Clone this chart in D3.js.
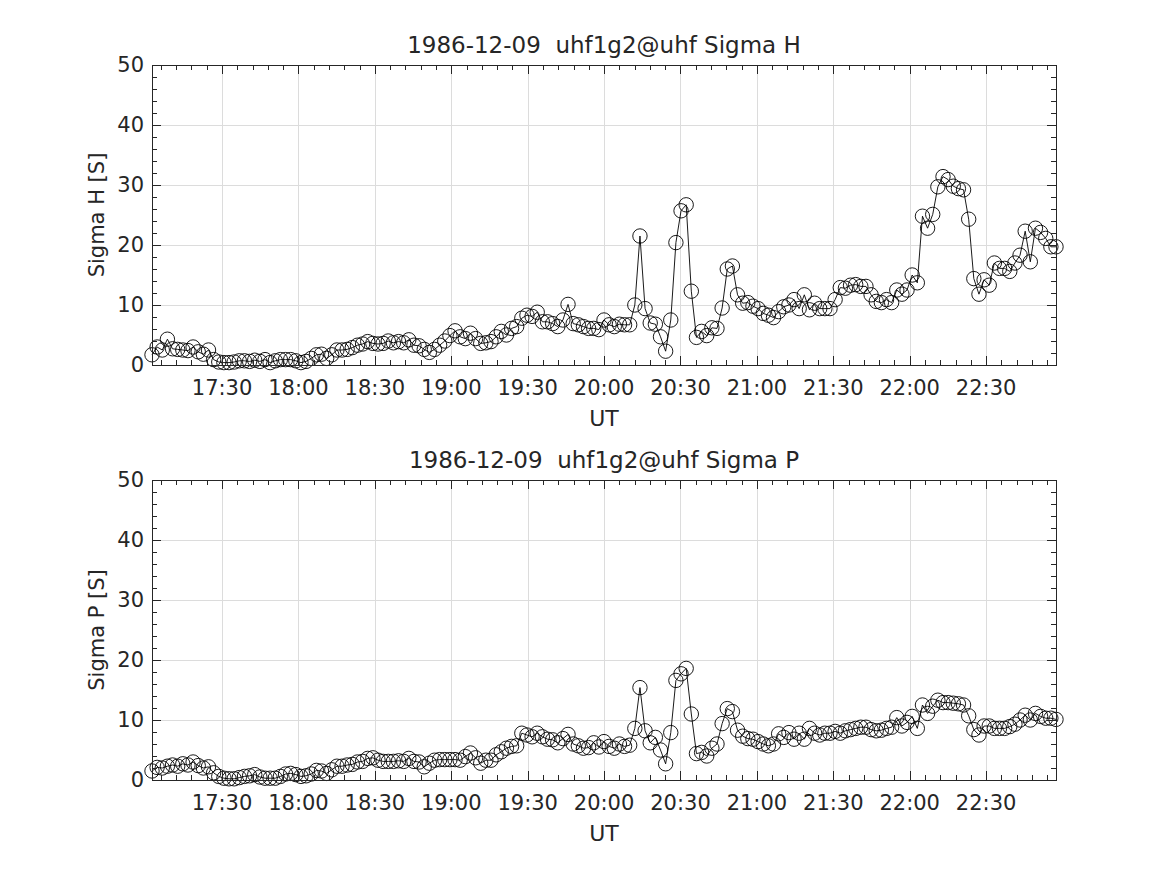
<!DOCTYPE html>
<html><head><meta charset="utf-8">
<script src="https://cdn.jsdelivr.net/npm/d3@7/dist/d3.min.js"></script>
<style>
body{margin:0;background:#fff}
text{font-family:"DejaVu Sans",sans-serif;fill:#262626;white-space:pre}
</style>
</head><body><svg id="c" width="1167" height="875"></svg>
<script>
const dateLabel = "1986-12-09";
const experiment = "uhf1g2@uhf";
const startTime = "17:02:30";
const stepSeconds = 121;
const sigmaH = [1.7,3.0,2.5,4.3,2.7,2.6,2.5,2.4,3.0,2.2,
1.8,2.5,0.9,0.5,0.4,0.4,0.5,0.7,0.7,0.6,
0.8,0.6,0.9,0.4,0.7,0.9,0.9,0.9,0.7,0.4,
0.6,1.1,1.7,1.8,1.1,1.7,2.5,2.5,2.6,2.9,
3.3,3.5,3.9,3.6,3.5,3.6,4.0,3.7,3.9,3.7,
4.2,3.3,3.2,2.6,2.1,2.6,3.3,4.0,4.9,5.7,
4.7,4.4,5.3,4.4,3.6,3.7,3.9,4.7,5.6,5.0,
6.1,6.4,7.8,8.3,8.1,8.8,7.2,7.2,6.9,6.4,
7.5,10.1,6.9,6.7,6.4,6.1,6.1,5.9,7.5,6.7,
6.4,6.8,6.7,6.7,10.0,21.5,9.4,7.0,6.8,4.7,
2.3,7.5,20.4,25.7,26.7,12.3,4.6,5.6,4.9,6.2,
6.1,9.5,16.0,16.5,11.7,10.3,10.4,9.8,9.4,8.6,
8.3,7.9,8.9,9.7,10.0,10.9,9.4,11.7,9.2,10.3,
9.4,9.4,9.4,10.9,12.9,12.8,13.3,13.4,13.1,13.1,
11.7,10.6,10.4,10.9,10.4,12.5,11.8,12.5,15.0,13.7,
24.8,22.8,25.1,29.7,31.4,30.9,29.8,29.4,29.2,24.3,
14.4,11.8,14.2,13.3,17.0,16.1,16.1,15.6,17.0,18.3,
22.3,17.2,22.8,22.1,21.1,19.7,19.7];
const sigmaP = [1.5,2.1,2.0,2.3,2.5,2.3,2.7,2.5,3.0,2.4,
2.0,2.2,1.2,0.6,0.3,0.2,0.2,0.4,0.6,0.7,
0.9,0.5,0.3,0.3,0.3,0.6,1.0,1.1,0.9,0.6,
0.7,1.0,1.6,1.5,1.1,1.7,2.3,2.3,2.5,2.6,
3.0,3.1,3.6,3.7,3.3,3.1,3.1,3.1,3.2,3.1,
3.6,3.1,3.0,2.2,2.8,3.3,3.4,3.4,3.4,3.4,
3.3,3.9,4.5,3.7,2.8,3.3,3.3,4.2,4.7,5.3,
5.6,5.7,7.8,7.5,7.2,7.8,7.2,6.8,6.7,6.2,
6.9,7.6,6.0,5.7,5.3,5.4,6.2,5.5,6.4,5.6,
5.3,6.0,5.6,5.8,8.6,15.4,8.2,6.2,7.1,5.0,
2.7,7.9,16.6,17.7,18.6,11.0,4.4,4.6,4.0,5.3,
6.0,9.4,11.9,11.4,8.3,7.3,6.9,6.8,6.4,6.0,
5.7,6.0,7.7,7.1,7.9,6.8,7.8,6.8,8.6,7.8,
7.5,7.8,7.8,8.1,7.8,8.2,8.4,8.6,8.8,8.8,
8.4,8.2,8.3,8.6,8.8,10.4,9.0,9.6,10.6,8.6,
12.5,11.1,12.3,13.3,12.9,12.9,12.8,12.7,12.5,10.7,
8.4,7.5,9.0,9.0,8.6,8.6,8.6,8.9,9.3,10.0,
10.8,10.0,11.1,10.6,10.3,10.3,10.1];
const xTickLabels = ["17:30","18:00","18:30","19:00","19:30","20:00","20:30","21:00","21:30","22:00","22:30"];
const yTicks = [0,10,20,30,40,50];
const panels = [
  {name:"Sigma H", values: sigmaH},
  {name:"Sigma P", values: sigmaP}
];

const svg = d3.select("#c");
const toDate = s => new Date(dateLabel + "T" + s + "Z");
const t0 = toDate(startTime);
const times = sigmaH.map((_, i) => new Date(t0.getTime() + i * stepSeconds * 1000));
const x = d3.scaleUtc().domain([times[0], times[times.length - 1]]).range([152, 1056]);
const xMajor = xTickLabels.map(s => toDate(s + ":00"));
const xMinor = d3.utcMinute.every(6).range(x.domain()[0], x.domain()[1]);
const ink = "#262626";

panels.forEach((p, k) => {
  const top = 65 + k * 415, bottom = top + 300;
  const y = d3.scaleLinear().domain([yTicks[0], yTicks[yTicks.length - 1]]).range([bottom, top]);
  const yMinor = d3.range(yTicks[0], yTicks[yTicks.length - 1], 2);
  const g = svg.append("g");
  const L = x.range()[0], R = x.range()[1];

  // grid
  g.selectAll(".gx").data(xMajor).join("line")
    .attr("x1", d => Math.round(x(d)) + 0.5).attr("x2", d => Math.round(x(d)) + 0.5)
    .attr("y1", top).attr("y2", bottom).attr("stroke", "#dcdcdc").attr("stroke-width", 1);
  g.selectAll(".gy").data(yTicks).join("line")
    .attr("y1", d => Math.round(y(d)) + 0.5).attr("y2", d => Math.round(y(d)) + 0.5)
    .attr("x1", L).attr("x2", R).attr("stroke", "#dcdcdc").attr("stroke-width", 1);

  // data
  const line = d3.line().x((d, i) => x(times[i])).y(d => y(d));
  g.append("path").datum(p.values).attr("d", line)
    .attr("fill", "none").attr("stroke", "#000").attr("stroke-width", 0.9);
  g.selectAll(".pt").data(p.values).join("circle")
    .attr("cx", (d, i) => x(times[i])).attr("cy", d => y(d)).attr("r", 7.2)
    .attr("fill", "none").attr("stroke", "#000").attr("stroke-width", 0.9);

  // ticks (inward, all four sides)
  const tk = (list, len, horiz) => {
    list.forEach(v => {
      if (horiz) {
        const px = Math.round(x(v)) + 0.5;
        g.append("line").attr("x1", px).attr("x2", px).attr("y1", bottom).attr("y2", bottom - len).attr("stroke", ink);
        g.append("line").attr("x1", px).attr("x2", px).attr("y1", top).attr("y2", top + len).attr("stroke", ink);
      } else {
        const py = Math.round(y(v)) + 0.5;
        g.append("line").attr("y1", py).attr("y2", py).attr("x1", L).attr("x2", L + len).attr("stroke", ink);
        g.append("line").attr("y1", py).attr("y2", py).attr("x1", R).attr("x2", R - len).attr("stroke", ink);
      }
    });
  };
  tk(xMinor, 5, true);
  tk(xMajor, 9, true);
  tk(yMinor, 5, false);
  tk(yTicks, 9, false);

  // box
  g.append("rect").attr("x", L + 0.5).attr("y", top + 0.5).attr("width", R - L).attr("height", bottom - top)
    .attr("fill", "none").attr("stroke", ink).attr("stroke-width", 1);

  // tick labels
  g.selectAll(".xl").data(xMajor).join("text")
    .attr("x", d => x(d)).attr("y", bottom + 30).attr("text-anchor", "middle")
    .attr("font-size", 21).text((d, i) => xTickLabels[i]);
  g.selectAll(".yl").data(yTicks).join("text")
    .attr("x", L - 8).attr("y", d => y(d)).attr("dy", "0.35em").attr("text-anchor", "end")
    .attr("font-size", 21).text(d => d);

  // labels
  g.append("text").attr("x", (L + R) / 2).attr("y", bottom + 61).attr("text-anchor", "middle")
    .attr("font-size", 22).text("UT");
  g.append("text").attr("transform", `translate(104,${(top + bottom) / 2}) rotate(-90)`)
    .attr("text-anchor", "middle").attr("font-size", 21).text(p.name + " [S]");
  g.append("text").attr("x", (L + R) / 2).attr("y", top - 12).attr("text-anchor", "middle")
    .attr("font-size", 23).text(dateLabel + "  " + experiment + " " + p.name);
});
</script>
</body></html>
